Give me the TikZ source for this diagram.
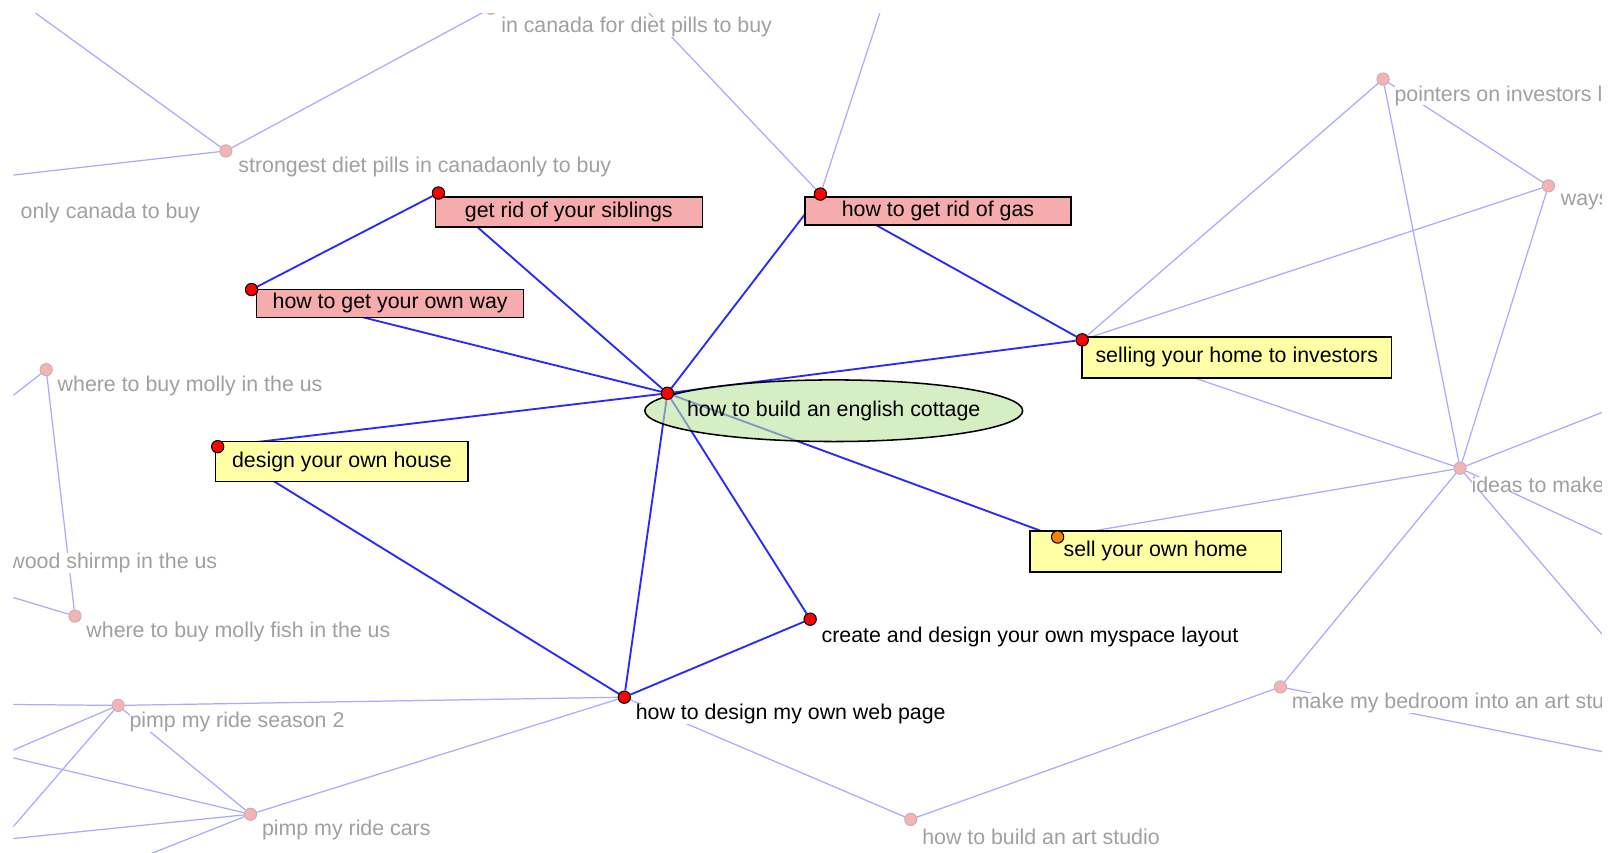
\documentclass[tikz,border=0pt]{standalone}
\usepackage{fontspec}
\setmainfont{Liberation Sans}
\usetikzlibrary{shapes.geometric}
\definecolor{fadeline}{RGB}{170,170,255}
\definecolor{activeline}{RGB}{40,40,255}
\definecolor{fadetext}{RGB}{160,160,160}
\definecolor{fadedot}{RGB}{242,180,180}
\definecolor{fadedotline}{RGB}{200,172,172}
\definecolor{pinkfill}{RGB}{246,172,172}
\definecolor{yellowfill}{RGB}{255,255,165}
\definecolor{cottagefill}{RGB}{188,227,155}
\pgfdeclarelayer{faded}
\pgfdeclarelayer{active}
\pgfsetlayers{faded,active,main}
\begin{document}
\begin{tikzpicture}[
        x=1pt, y=-1pt,
        every node/.style={font=\fontsize{20.8}{25}\selectfont},
        dot/.style={circle, draw=black, fill=red, inner sep=0pt, minimum size=12pt, line width=1pt},
        fdot/.style={circle, draw=fadedotline, fill=fadedot, inner sep=0pt, minimum size=12pt, line width=0.8pt},
        ftext/.style={anchor=west, text=fadetext, fill=white, inner sep=0pt},
        atext/.style={anchor=west, text=black, fill=white, inner sep=0pt},
        pinkbox/.style={draw=black, fill=pinkfill, line width=1.5pt, inner sep=0pt},
        yellowbox/.style={draw=black, fill=yellowfill, line width=1.5pt, inner sep=0pt},
        cottagebox/.style={ellipse, draw=black, line width=1.5pt, fill=cottagefill, fill opacity=0.6, text opacity=1, inner sep=0pt},
        fedge/.style={draw=fadeline, line width=1.2pt},
        aedge/.style={draw=activeline, line width=1.8pt},
    ]
    \useasboundingbox (0,0) rectangle (1568,830);
    \begin{scope}
    \clip (13,13) rectangle (1560,830);
    % faded labels
    \node[ftext] (canada-l) at (488,26) {in canada for diet pills to buy};
    \node[ftext] (strongest-l) at (232,163) {strongest diet pills in canadaonly to buy};
    \node[ftext] (onlycanada-l) at (20,207) {only canada to buy};
    \node[ftext] (pointers-l) at (1358,93) {pointers on investors l};
    \node[ftext] (ways-l) at (1520,197) {ways};
    \node[ftext] (ideas-l) at (1433,472) {ideas to make};
    \node[ftext] (bedroom-l) at (1258,685) {make my bedroom into an art stu};
    \node[ftext] (artstudio-l) at (898,815) {how to build an art studio};
    \node[ftext] (mollyus-l) at (56,376) {where to buy molly in the us};
    \node[ftext] (shrimp-l) at (9,548) {wood shirmp in the us};
    \node[ftext] (mollyfish-l) at (84,615) {where to buy molly fish in the us};
    \node[ftext] (season-l) at (126,703) {pimp my ride season 2};
    \node[ftext] (cars-l) at (255,808) {pimp my ride cars};
    % active labels
    \node[cottagebox, minimum width=368pt, minimum height=60pt] (cottage-l) at (812,400) {\makebox[0pt]{how to build an english cottage}};
    \node[pinkbox, minimum width=260pt, minimum height=29pt] (siblings-l) at (554,206.5) {get rid of your siblings};
    \node[pinkbox, minimum width=259pt, minimum height=27pt] (gas-l) at (913.5,205.5) {how to get rid of gas};
    \node[pinkbox, minimum width=260pt, minimum height=27pt] (ownway-l) at (380,295.5) {how to get your own way};
    \node[yellowbox, minimum width=301pt, minimum height=40pt] (selling-l) at (1204.5,348) {selling your home to investors};
    \node[yellowbox, minimum width=246pt, minimum height=39pt] (house-l) at (333,449.5) {design your own house};
    \node[yellowbox, minimum width=245pt, minimum height=40pt] (ownhome-l) at (1125.5,537) {sell your own home};
    \node[atext] (myspace-l) at (800,620) {create and design your own myspace layout};
    \node[atext] (webpage-l) at (619,695) {how to design my own web page};
    % faded dots
    \node[fdot] (canada) at (478,8) {};
    \node[fdot] (strongest) at (220,147) {};
    \node[fdot] (pointers) at (1347,77) {};
    \node[fdot] (ways) at (1508,181) {};
    \node[fdot] (ideas) at (1422,456) {};
    \node[fdot] (bedroom) at (1247,669) {};
    \node[fdot] (artstudio) at (887,798) {};
    \node[fdot] (mollyus) at (45,360) {};
    \node[fdot] (mollyfish) at (73,600) {};
    \node[fdot] (season) at (115,687) {};
    \node[fdot] (cars) at (244,793) {};
    % active dots
    \node[dot] (cottage) at (650,383) {};
    \node[dot] (siblings) at (427,188) {};
    \node[dot] (gas) at (799,189) {};
    \node[dot] (ownway) at (245,282) {};
    \node[dot] (selling) at (1054,331) {};
    \node[dot] (house) at (212,435) {};
    \node[dot, fill=orange] (ownhome) at (1030,523) {};
    \node[dot] (myspace) at (789,603) {};
    \node[dot] (webpage) at (608,679) {};
    \end{scope}
    % ends outside the frame
    \coordinate (out-tl) at (17,0);
    \coordinate (out-l1) at (0,172);
    \coordinate (out-t1) at (620,0);
    \coordinate (out-t2) at (861,0);
    \coordinate (out-r1) at (1600,386);
    \coordinate (out-r2) at (1600,539);
    \coordinate (out-r3) at (1600,664);
    \coordinate (out-r4) at (1600,740);
    \coordinate (out-l2) at (0,395);
    \coordinate (out-l3) at (0,578);
    \coordinate (out-l4) at (0,686);
    \coordinate (out-l5) at (0,736);
    \coordinate (out-l6) at (0,820);
    \coordinate (out-l7) at (0,735);
    \coordinate (out-l8) at (0,818);
    \coordinate (out-b1) at (100,850);
    \begin{pgfonlayer}{faded}
    \fill[white] (0,0) rectangle (1568,830);
    \clip (13,13) rectangle (1560,830);
    \draw[fedge] (strongest) -- (out-tl);
    \draw[fedge] (strongest) -- (canada);
    \draw[fedge] (strongest) -- (out-l1);
    \draw[fedge] (gas) -- (out-t1);
    \draw[fedge] (gas) -- (out-t2);
    \draw[fedge] (pointers) -- (selling);
    \draw[fedge] (pointers) -- (ideas);
    \draw[fedge] (pointers) -- (ways);
    \draw[fedge] (ways) -- (selling);
    \draw[fedge] (ways) -- (ideas);
    \draw[fedge] (ideas) -- (selling);
    \draw[fedge] (ideas) -- (ownhome);
    \draw[fedge] (ideas) -- (bedroom);
    \draw[fedge] (ideas) -- (out-r1);
    \draw[fedge] (ideas) -- (out-r2);
    \draw[fedge] (ideas) -- (out-r3);
    \draw[fedge] (bedroom) -- (artstudio);
    \draw[fedge] (bedroom) -- (out-r4);
    \draw[fedge] (artstudio) -- (webpage);
    \draw[fedge] (mollyus) -- (mollyfish);
    \draw[fedge] (mollyus) -- (out-l2);
    \draw[fedge] (mollyfish) -- (out-l3);
    \draw[fedge] (season) -- (webpage);
    \draw[fedge] (season) -- (out-l4);
    \draw[fedge] (season) -- (out-l5);
    \draw[fedge] (season) -- (out-l6);
    \draw[fedge] (season) -- (cars);
    \draw[fedge] (cars) -- (webpage);
    \draw[fedge] (cars) -- (out-l7);
    \draw[fedge] (cars) -- (out-l8);
    \draw[fedge] (cars) -- (out-b1);
    \end{pgfonlayer}
    \begin{pgfonlayer}{active}
    \clip (13,13) rectangle (1560,830);
    \draw[aedge] (cottage) -- (siblings);
    \draw[aedge] (siblings) -- (ownway);
    \draw[aedge] (cottage) -- (ownway);
    \draw[aedge] (cottage) -- (gas);
    \draw[aedge] (gas) -- (selling);
    \draw[aedge] (cottage) -- (selling);
    \draw[aedge] (cottage) -- (house);
    \draw[aedge] (house) -- (webpage);
    \draw[aedge] (cottage) -- (webpage);
    \draw[aedge] (cottage) -- (myspace);
    \draw[aedge] (webpage) -- (myspace);
    \draw[aedge] (cottage) -- (ownhome);
    \end{pgfonlayer}
\end{tikzpicture}
\end{document}
